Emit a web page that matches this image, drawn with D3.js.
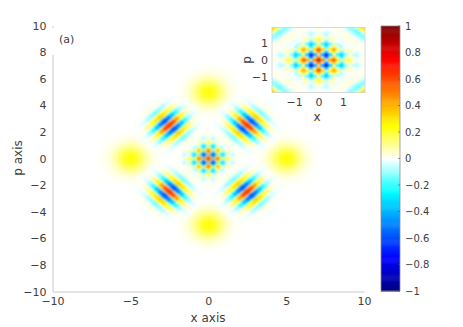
<!DOCTYPE html>
<html>
<head>
<meta charset="utf-8">
<script src="https://cdn.jsdelivr.net/npm/d3@7"></script>
<style>
html, body { margin: 0; padding: 0; background: #fff; }
svg { display: block; }
text { font-family: "DejaVu Sans", sans-serif; fill: #404040; }
</style>
</head>
<body>
<svg id="chart" width="463" height="327"></svg>
<script>
// values, the 4 quadrants look mirrored so only one is kept
let xTicks = [-10, -5, 0, 5, 10];
let yTicks = [-10, -8, -6, -4, -2, 0, 2, 4, 6, 8, 10];
let insetTicks = [-1, 0, 1];
let barTicks = [-1, -0.8, -0.6, -0.4, -0.2, 0, 0.2, 0.4, 0.6, 0.8, 1];
let colorStops = [-1, -0.75, -0.5, -0.25, 0, 0.25, 0.5, 0.75, 1];
let colorValues = ["#000080", "#0000ff", "#0080ff", "#00ffff", "#ffffff", "#ffff00", "#ff8000", "#ff0000", "#800000"];

// yellow blobs at (5,0) (0,5) ... : offset from blob centre, step 0.333
let blobStep = 0.333;
let blobCenters = [[5, 0], [-5, 0], [0, 5], [0, -5]];
let blob = [
	[.250, .224, .160, .092, .042, .016, .005, .001],
	[.224, .200, .144, .082, .038, .014, .004, .001],
	[.160, .144, .103, .059, .027, .010, .003, .001],
	[.092, .082, .059, .034, .016, .006, .002, 0],
	[.042, .038, .027, .016, .007, .003, .001, 0],
	[.016, .014, .010, .006, .003, .001, 0, 0],
	[.005, .004, .003, .002, .001, 0, 0, 0],
	[.001, .001, .001, 0, 0, 0, 0, 0]
];

// checkerboard in the middle: rows are p, columns are x, step 0.157
let centerStep = 0.157;
let center = [
	[1.00, .49, 0, .40, .67, .27, 0, .15, .21, .07, 0, .03, .03],
	[.49, 0, -.44, 0, .33, 0, -.20, 0, .10, 0, -.04, 0, .01],
	[0, -.44, -.82, -.36, 0, -.24, -.37, -.14, 0, -.06, -.08, -.02, 0],
	[.40, 0, -.36, 0, .27, 0, -.17, 0, .08, 0, -.03, 0, .01],
	[.67, .33, 0, .27, .45, .18, 0, .10, .14, .05, 0, .02, .02],
	[.27, 0, -.24, 0, .18, 0, -.11, 0, .06, 0, -.02, 0, .01],
	[0, -.20, -.37, -.17, 0, -.11, -.17, -.06, 0, -.03, -.04, -.01, 0],
	[.15, 0, -.14, 0, .10, 0, -.06, 0, .03, 0, -.01, 0, 0],
	[.21, .10, 0, .08, .14, .06, 0, .03, .04, .01, 0, .01, .01],
	[.07, 0, -.06, 0, .05, 0, -.03, 0, .01, 0, -.01, 0, 0],
	[0, -.04, -.08, -.03, 0, -.02, -.04, -.01, 0, -.01, -.01, 0, 0],
	[.03, 0, -.02, 0, .02, 0, -.01, 0, .01, 0, 0, 0, 0],
	[.03, .01, 0, .01, .02, .01, 0, 0, .01, 0, 0, 0, 0]
];

// striped lobes at (+-2.5,+-2.5): rows go along the stripe (step 0.333), columns across it (step 0.111)
let lobeCenter = 2.5;
let lobeStepU = 0.333;
let lobeStepV = 0.111;
let lobe = [
	[.82, .57, 0, -.52, -.68, -.43, 0, .32, .37, .22, 0, -.13, -.14, -.07, 0, .04, .03, .02, 0, -.01, -.01],
	[.73, .51, 0, -.46, -.60, -.38, 0, .28, .33, .19, 0, -.12, -.12, -.06, 0, .03, .03, .01, 0, -.01, -.01],
	[.52, .37, 0, -.33, -.43, -.27, 0, .21, .24, .14, 0, -.09, -.09, -.04, 0, .02, .02, .01, 0, 0, 0],
	[.30, .21, 0, -.19, -.25, -.15, 0, .12, .14, .08, 0, -.04, -.05, -.02, 0, .01, .01, .01, 0, 0, 0],
	[.14, .10, 0, -.09, -.11, -.08, 0, .05, .07, .03, 0, -.02, -.02, -.01, 0, .01, .01, 0, 0, 0, 0],
	[.05, .03, 0, -.03, -.04, -.02, 0, .02, .02, .01, 0, -.01, -.01, 0, 0, 0, 0, 0, 0, 0, 0],
	[.01, .01, 0, -.01, -.01, -.01, 0, .01, .01, 0, 0, 0, 0, 0, 0, 0, 0, 0, 0, 0, 0]
];

let svg = d3.select("#chart");
let color = d3.scaleLinear().domain(colorStops).range(colorValues).clamp(true);
let signs = [-1, 1];

let defs = svg.append("defs");
function addBlur(id, dev) {
	defs.append("filter").attr("id", id)
		.attr("x", "-10%").attr("y", "-10%").attr("width", "120%").attr("height", "120%")
		.attr("color-interpolation-filters", "sRGB")
		.append("feGaussianBlur").attr("stdDeviation", dev);
}
addBlur("blurBlob", 1.6);
addBlur("blurLobe", 0.85);
addBlur("blurCenter", 0.8);
addBlur("blurCenterInset", 0.9);

// rect cells of one table, mirrored into the 4 quadrants around (cx, cy)
function drawTable(g, table, step, cx, cy, scaleX, scaleY) {
	let cells = [];
	table.forEach((row, j) => row.forEach((v, i) => {
		if (v == 0) return;
		for (let sx of signs)
			for (let sy of signs)
				cells.push({x: cx + sx * i * step, y: cy + sy * j * step, v: v});
	}));
	g.selectAll("rect").data(cells).enter().append("rect")
		.attr("x", d => scaleX(d.x - step / 2))
		.attr("y", d => scaleY(d.y + step / 2))
		.attr("width", d => scaleX(d.x + step / 2) - scaleX(d.x - step / 2) + 0.3)
		.attr("height", d => scaleY(d.y - step / 2) - scaleY(d.y + step / 2) + 0.3)
		.attr("fill", d => color(d.v));
}

// the lobes are turned 45 degrees so they are polygons
function drawLobes(g, scaleX, scaleY) {
	let r = Math.SQRT1_2;
	let cells = [];
	lobe.forEach((row, j) => row.forEach((v, i) => {
		if (v == 0) return;
		for (let qx of signs) for (let qy of signs)
			for (let su of signs) for (let sv of signs) {
				let u = su * j * lobeStepU;
				let w = sv * i * lobeStepV;
				let corners = [[-1, -1], [1, -1], [1, 1], [-1, 1]].map(c => {
					let a = u + c[0] * lobeStepU / 2;
					let b = w + c[1] * lobeStepV / 2;
					return [qx * (lobeCenter + (a + b) * r), qy * (lobeCenter + (b - a) * r)];
				});
				cells.push({v: v, corners: corners});
			}
	}));
	g.selectAll("polygon").data(cells).enter().append("polygon")
		.attr("points", d => d.corners.map(c => scaleX(c[0]) + "," + scaleY(c[1])).join(" "))
		.attr("fill", d => color(d.v))
		.attr("stroke", d => color(d.v))
		.attr("stroke-width", 0.4);
}

//MAIN PLOT
let x = d3.scaleLinear().domain([-10, 10]).range([52.5, 364]);
let y = d3.scaleLinear().domain([-10, 10]).range([291.5, 25.5]);

let blobLayer = svg.append("g").attr("filter", "url(#blurBlob)");
blobCenters.forEach(c => drawTable(blobLayer.append("g"), blob, blobStep, c[0], c[1], x, y));
drawTable(svg.append("g").attr("filter", "url(#blurCenter)"), center, centerStep, 0, 0, x, y);
drawLobes(svg.append("g").attr("filter", "url(#blurLobe)"), x, y);

function styleAxis(g, size) {
	g.select(".domain").attr("stroke", "#c8c8c8");
	g.selectAll(".tick line").remove();
	g.selectAll("text").style("font-size", size).style("font-family", '"DejaVu Sans", sans-serif').attr("fill", "#404040");
}

svg.append("g").attr("transform", "translate(0,291.5)")
	.call(d3.axisBottom(x).tickValues(xTicks).tickSize(0).tickSizeOuter(0).tickPadding(6).tickFormat(d3.format("d")))
	.call(styleAxis, "11px");
svg.append("g").attr("transform", "translate(52.5,0)")
	.call(d3.axisLeft(y).tickValues(yTicks).tickSize(0).tickSizeOuter(0).tickPadding(6).tickFormat(d3.format("d")))
	.call(styleAxis, "11px");

svg.append("text").attr("x", 208).attr("y", 322).attr("text-anchor", "middle").style("font-size", "12px").text("x axis");
svg.append("text").attr("transform", "translate(22,158) rotate(-90)").attr("text-anchor", "middle").style("font-size", "12px").text("p axis");

// box of the (a) label hides a piece of the axis
svg.append("rect").attr("x", 51).attr("y", 28).attr("width", 27).attr("height", 27).attr("fill", "#fff");
svg.append("text").attr("x", 59).attr("y", 43).style("font-size", "11px").attr("fill", "#262626").text("(a)");

//INSET
let ix = d3.scaleLinear().domain([-1.9, 1.9]).range([272, 365]);
let iy = d3.scaleLinear().domain([-1.9, 1.9]).range([92.5, 27.5]);

defs.append("clipPath").attr("id", "insetClip").append("rect")
	.attr("x", 272).attr("y", 27.5).attr("width", 93).attr("height", 65);
svg.append("rect").attr("x", 272).attr("y", 27.5).attr("width", 93).attr("height", 65).attr("fill", "#fff");
let inset = svg.append("g").attr("clip-path", "url(#insetClip)");
drawTable(inset.append("g").attr("filter", "url(#blurCenterInset)"), center, centerStep, 0, 0, ix, iy);
drawLobes(inset.append("g").attr("filter", "url(#blurLobe)"), ix, iy);
svg.append("rect").attr("x", 272).attr("y", 27.5).attr("width", 93).attr("height", 65)
	.attr("fill", "none").attr("stroke", "#d0d0d0").attr("stroke-width", 0.8);

svg.append("g").attr("transform", "translate(0,92.5)")
	.call(d3.axisBottom(ix).tickValues(insetTicks).tickSize(0).tickSizeOuter(0).tickPadding(6).tickFormat(d3.format("d")))
	.call(styleAxis, "11px")
	.select(".domain").remove();
svg.append("g").attr("transform", "translate(272,0)")
	.call(d3.axisLeft(iy).tickValues(insetTicks).tickSize(0).tickSizeOuter(0).tickPadding(4).tickFormat(d3.format("d")))
	.call(styleAxis, "11px")
	.select(".domain").remove();
svg.append("text").attr("x", 317).attr("y", 121).attr("text-anchor", "middle").style("font-size", "12px").text("x");
svg.append("text").attr("transform", "translate(251,60) rotate(-90)").attr("text-anchor", "middle").style("font-size", "12px").text("p");

//COLORBAR
let barY = d3.scaleLinear().domain([-1, 1]).range([291, 26]);
let barLevels = d3.range(-1, 1, 0.008);
svg.append("g").selectAll("rect").data(barLevels).enter().append("rect")
	.attr("x", 381).attr("width", 19)
	.attr("y", d => barY(d + 0.008))
	.attr("height", d => barY(d) - barY(d + 0.008) + 0.5)
	.attr("fill", d => color(d + 0.004));
svg.append("rect").attr("x", 381).attr("y", 26).attr("width", 19).attr("height", 265)
	.attr("fill", "none").attr("stroke", "#8c8c8c").attr("stroke-width", 0.8);
let barAxis = svg.append("g").attr("transform", "translate(400,0)")
	.call(d3.axisRight(barY).tickValues(barTicks).tickSize(0).tickSizeOuter(0).tickPadding(5).tickFormat(d => d3.format("")(+d.toFixed(1))))
	.call(styleAxis, "10px");
barAxis.select(".domain").remove();
svg.append("g").selectAll("line").data(barTicks).enter().append("line")
	.attr("x1", 398).attr("x2", 400)
	.attr("y1", d => barY(d)).attr("y2", d => barY(d))
	.attr("stroke", "#555").attr("stroke-width", 0.6);
</script>
</body>
</html>
